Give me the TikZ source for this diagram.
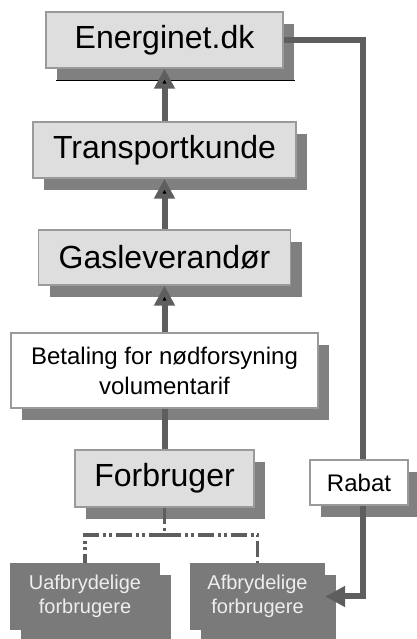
\documentclass[tikz,border=0pt]{standalone}
\usepackage{fontspec}
\setmainfont{Liberation Sans}
\usepackage{tikz}
\usetikzlibrary{arrows.meta,shadows}

\definecolor{boxgray}{HTML}{DEDEDE}
\definecolor{bordergray}{HTML}{9A9A9A}
\definecolor{shadowgray}{HTML}{808080}
\definecolor{linegray}{HTML}{5E5E5E}
\definecolor{darkboxgray}{HTML}{7A7A7A}
\definecolor{lighttext}{HTML}{EEEEEE}

\begin{document}
\begin{tikzpicture}[->,>={Triangle[length=20pt,width=20pt]},x=1pt,y=1pt,auto]
\tikzstyle{box}=[draw=bordergray,line width=1.5pt,fill=boxgray,text=black,inner sep=0pt,
                 drop shadow={shadow xshift=11pt,shadow yshift=-12pt,fill=shadowgray,opacity=1}]
\tikzstyle{darkbox}=[fill=darkboxgray,text=lighttext,inner sep=0pt,align=center,
                 font=\fontsize{20pt}{24pt}\selectfont,minimum height=67pt,
                 drop shadow={shadow xshift=11pt,shadow yshift=-12pt,fill=darkboxgray,opacity=1}]
\tikzstyle{conn}=[draw=linegray,line width=6pt]
\tikzstyle{split}=[draw=linegray,line width=3.5pt,dash pattern=on 16pt off 4pt on 3pt off 3pt on 3pt off 4pt]
\tikzset{font=\fontsize{32pt}{36pt}\selectfont}

        \useasboundingbox (0,0) rectangle (416,639);

        \node[box,minimum width=179pt,minimum height=57pt]                          (forb)                    at (164.5,160.5) {Forbruger};
        \node[box,minimum width=307pt,minimum height=75pt,fill=white,align=center,
              font=\fontsize{24pt}{30pt}\selectfont, node distance=108pt]          (bet)    [above of=forb]  {Betaling for nødforsyning\\volumentarif};
        \node[box,minimum width=252pt,minimum height=55pt, node distance=113pt]     (gas)    [above of=bet]   {Gasleverandør};
        \node[box,minimum width=263pt,minimum height=56pt, node distance=107.5pt]   (trans)  [above of=gas]   {Transportkunde};
        \node[box,minimum width=237pt,minimum height=56pt, node distance=110pt]     (energ)  [above of=trans] {Energinet.dk};

        \node[box,minimum width=98pt,minimum height=45pt,fill=white,
              font=\fontsize{24pt}{28pt}\selectfont]                                (rabat)                   at (359,156.5)   {Rabat};

        \node[darkbox,minimum width=150pt]                                          (uafbr)                   at (85,42.5)     {Uafbrydelige\\forbrugere};
        \node[darkbox,minimum width=135pt]                                          (afbr)                    at (257.5,42.5)  {Afbrydelige\\forbrugere};

        % black edge under the top shadow
        \draw[-,line width=1.5pt] ([xshift=11pt,yshift=-12pt]energ.south west) -- ([xshift=11pt,yshift=-12pt]energ.south east);

        \coordinate (fork) at (164.5,104);

        \path[conn]
        (trans) edge node {}   (energ)
        (gas)   edge node {}   (trans)
        (bet)   edge node {}   (gas)
        (forb)  edge[-] node {} (bet)
        ; %end path

        \draw[conn,-] (energ.east) -| ([xshift=4pt]rabat.north);
        \draw[conn,->] ([xshift=4pt]rabat.south) |- (afbr.east);

        \draw[split,-] (forb.south) -- (fork);
        \draw[split,-] (fork) -| (uafbr.north);
        \draw[split,-] (fork) -| (afbr.north);

\end{tikzpicture}
\end{document}
